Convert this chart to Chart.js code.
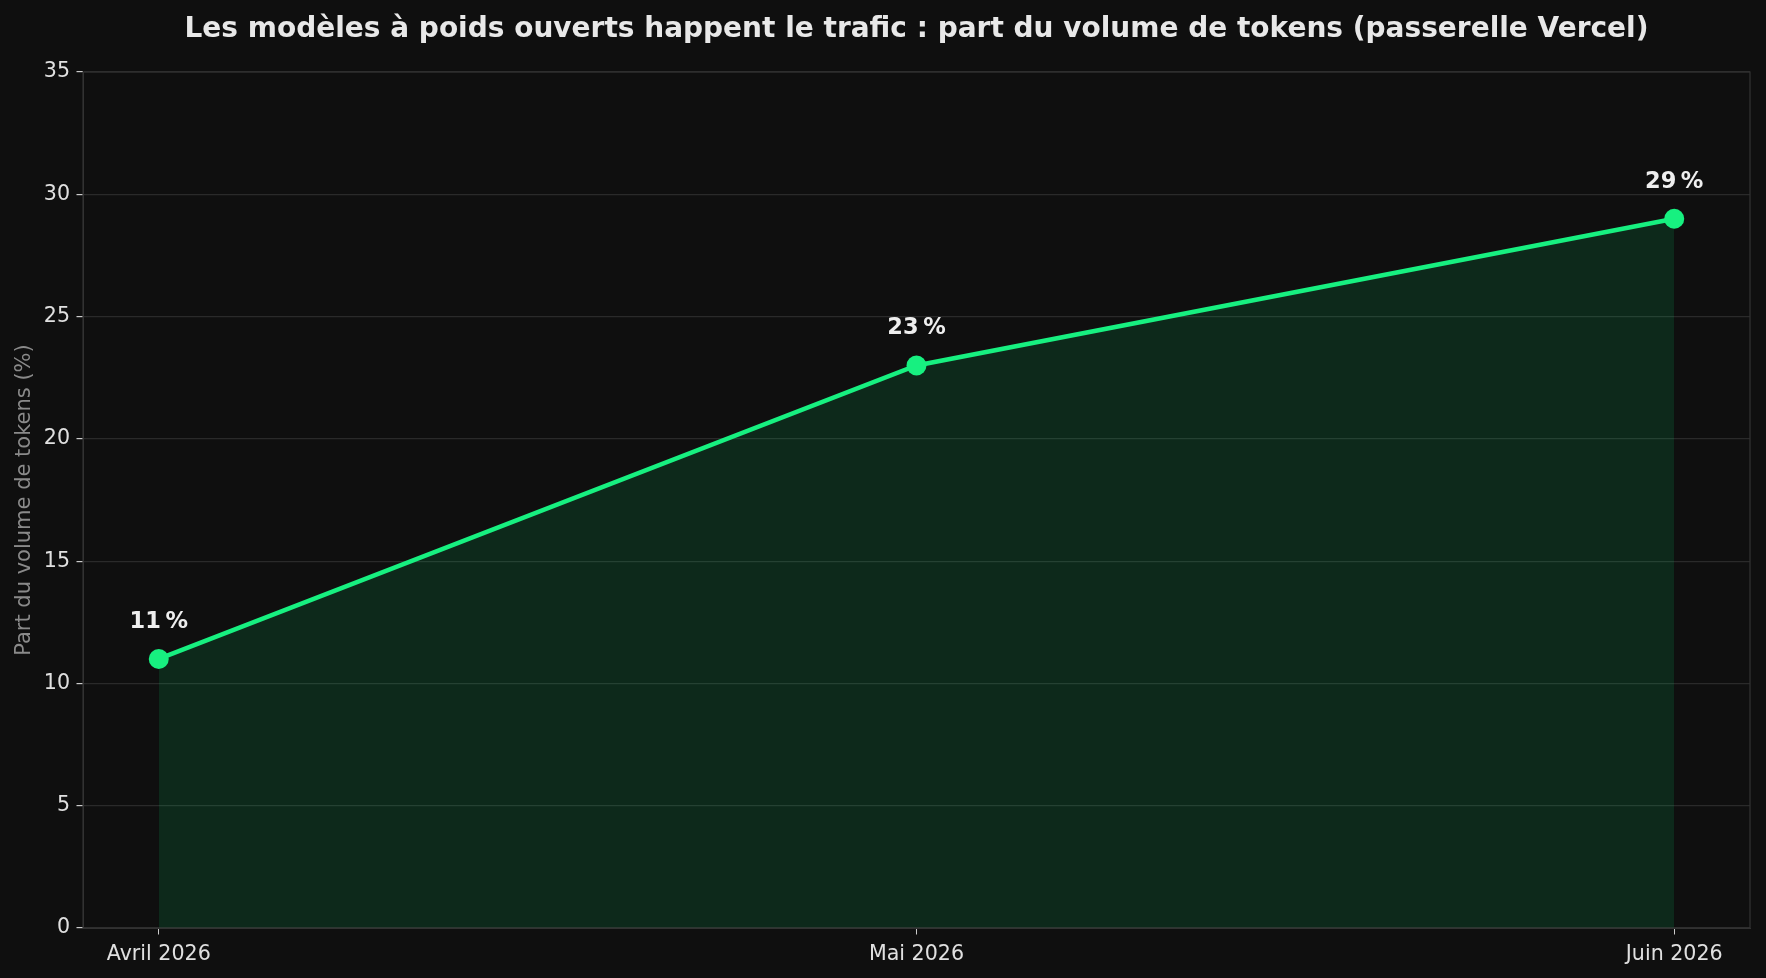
<!DOCTYPE html>
<html>
<head>
<meta charset="utf-8">
<script src="https://cdn.jsdelivr.net/npm/chart.js@4"></script>
<style>
  body { margin: 0; background: #0f0f0f; }
  #wrap { width: 1766px; height: 978px; }
</style>
</head>
<body>
<div id="wrap"><canvas id="chart" width="1766" height="978"></canvas></div>
<script>
// data
var months = ['Avril 2026', 'Mai 2026', 'Juin 2026'];
var shares = [11, 23, 29];
var yTicks = [0, 5, 10, 15, 20, 25, 30, 35];

var titleText = 'Les modèles à poids ouverts happent le trafic : part du volume de tokens (passerelle Vercel)';
var green = '#17f080';
var font = 'DejaVu Sans';

// background, frame, title and value labels
var decor = {
    id: 'decor',
    beforeDraw: function (chart) {
        var ctx = chart.ctx;
        ctx.save();
        ctx.fillStyle = '#0f0f0f';
        ctx.fillRect(0, 0, chart.width, chart.height);
        ctx.restore();
    },
    afterDatasetsDraw: function (chart) {
        var ctx = chart.ctx;
        var a = chart.chartArea;
        ctx.save();
        ctx.strokeStyle = '#333333';
        ctx.lineWidth = 1.2;
        ctx.strokeRect(a.left, a.top, a.right - a.left, a.bottom - a.top);

        ctx.fillStyle = '#e8e8e8';
        ctx.font = 'bold 28px "' + font + '"';
        ctx.textAlign = 'center';
        ctx.textBaseline = 'middle';
        ctx.fillText(titleText, (a.left + a.right) / 2, 30);

        var xs = chart.scales.x, ys = chart.scales.y;
        ctx.font = 'bold 22.5px "' + font + '"';
        ctx.fillStyle = '#eeeeee';
        shares.forEach(function (v, i) {
            ctx.fillText(v + '\u202F%', xs.getPixelForValue(i), ys.getPixelForValue(v) - 37);
        });
        ctx.restore();
    }
};

var ctx = document.getElementById('chart').getContext('2d');
var chart = new Chart(ctx, {
    type: 'line',
    data: {
        datasets: [{
            data: shares.map(function (v, i) { return { x: i, y: v }; }),
            borderColor: green,
            borderWidth: 4.5,
            backgroundColor: 'rgba(0, 255, 127, 0.11)',
            fill: 'origin',
            pointRadius: 10,
            pointBackgroundColor: green,
            pointBorderWidth: 0,
            tension: 0
        }]
    },
    options: {
        responsive: false,
        animation: false,
        layout: { padding: { left: 0, right: 16, top: 72, bottom: 0 } },
        plugins: {
            legend: { display: false },
            tooltip: { enabled: false }
        },
        scales: {
            x: {
                type: 'linear',
                min: -0.1,
                max: 2.1,
                afterBuildTicks: function (scale) {
                    scale.ticks = months.map(function (m, i) { return { value: i }; });
                },
                afterFit: function (scale) { scale.height = 50; },
                ticks: {
                    color: '#e0e0e0',
                    font: { family: font, size: 20.6 },
                    padding: 8,
                    maxRotation: 0,
                    callback: function (v) { return months[v]; }
                },
                grid: {
                    drawOnChartArea: false,
                    drawTicks: true,
                    tickLength: 6.5,
                    tickColor: '#cccccc'
                },
                border: { color: '#333333' }
            },
            y: {
                min: 0,
                max: 35,
                afterBuildTicks: function (scale) {
                    scale.ticks = yTicks.map(function (t) { return { value: t }; });
                },
                afterFit: function (scale) { scale.width = 83; },
                ticks: {
                    color: '#e0e0e0',
                    font: { family: font, size: 20.6 },
                    padding: 6.5
                },
                grid: {
                    color: '#2a2a2a',
                    lineWidth: 1.2,
                    tickLength: 6.5,
                    tickColor: '#cccccc'
                },
                border: { color: '#333333' },
                title: {
                    display: true,
                    text: 'Part du volume de tokens (%)',
                    color: '#8a8a8a',
                    font: { family: font, size: 21 },
                    padding: { top: 12, bottom: 0 }
                }
            }
        }
    },
    plugins: [decor]
});
</script>
</body>
</html>
